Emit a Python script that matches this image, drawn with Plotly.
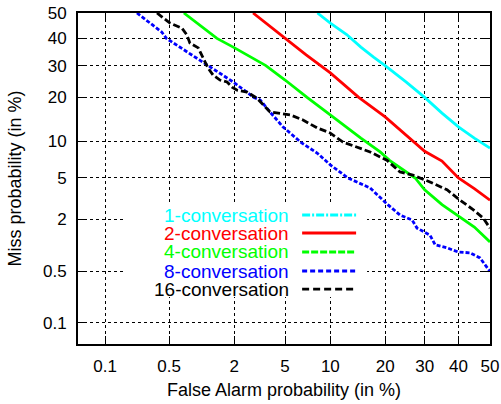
import plotly.graph_objects as go
from statistics import NormalDist

nd = NormalDist()

def probit(vals):
    return [nd.inv_cdf(v / 100.0) for v in vals]

# Tick labels (percent)
tick_pct = [0.1, 0.5, 2, 5, 10, 20, 30, 40, 50]
tick_txt = ["0.1", "0.5", "2", "5", "10", "20", "30", "40", "50"]

series_names = ["1-conversation", "2-conversation", "4-conversation", "8-conversation", "16-conversation"]

# 1-conversation (False alarm %, Miss %)
fa_1 = [8.3, 10, 12.5, 15, 17.5, 20, 25, 30, 35, 40, 45, 50]
miss_1 = [50, 46, 41.5, 36.7, 33, 30, 24.6, 20, 15.9, 12.8, 10.6, 8.9]

# 2-conversation
fa_2 = [2.86, 3.87, 5, 7, 10, 14.6, 20, 26.8, 30, 35, 40, 45, 50]
miss_2 = [50, 44.7, 40, 33.8, 27.5, 20, 15, 10, 8.4, 7.0, 5, 4, 3.1]

# 4-conversation
fa_4 = [0.70, 1.0, 1.42, 2, 3.6, 5, 7.1, 11, 15, 18.9, 21, 27.4, 30, 35, 41.4, 45, 50]
miss_4 = [50, 45.2, 40, 36.5, 30, 25.2, 20, 14.3, 10.6, 8.3, 7.1, 5, 3.9, 2.8, 2.0, 1.64, 1.12]

# 8-conversation
fa_8 = [0.23, 0.32, 0.42, 0.47, 0.75, 1.18, 1.51, 1.96, 2.9, 3.25, 3.87, 4.83, 6.5, 8.3,
        10, 12.7, 16.8, 18.9, 20.6, 23.5, 26.6, 27.9, 31.5, 33, 36.5, 39.9, 43.6, 46.8, 50]
miss_8 = [50, 46, 42.5, 40, 34.9, 30, 27.5, 24.6, 20, 19.3, 16.2, 12.8, 9.8, 8.1,
          6.5, 5, 4.05, 3.3, 2.8, 2.2, 1.95, 1.6, 1.34, 1.04, 0.96, 0.86, 0.84, 0.73, 0.5]

# 16-conversation
fa_16 = [0.376, 0.51, 0.67, 0.75, 0.80, 0.96, 1.0, 1.11, 1.18, 1.31, 1.51, 1.74, 1.92, 2.12,
         2.56, 3.07, 3.42, 3.87, 5.42, 6.67, 8.26, 9.96, 11.9, 14.3, 16.8, 20.4, 23.5, 26.8,
         31.5, 36.5, 40.5, 44.6, 47.8, 50]
miss_16 = [50, 46, 44, 41.3, 38.2, 36.4, 34.9, 30.9, 29.2, 26.8, 25.2, 24.6, 23, 22.1,
           21.5, 19.8, 18, 16.2, 15.5, 14.3, 12.6, 11.6, 9.9, 9.1, 8.3, 7.1, 5.65, 5.3,
           4.6, 3.9, 3.1, 2.5, 2.05, 1.6]

colors = ["#00FFFF", "#FF0000", "#00FF00", "#0000FF", "#000000"]
plot_dash = ["solid", "solid", "solid", "4px,2px", "7px,3px"]
legend_dash = ["8px,2px,2px,2px", "solid", "7px,2px", "5px,3px", "7px,4px"]

FONT = "Liberation Sans, Arial, Helvetica, sans-serif"

fig = go.Figure()
for fa, miss, c, d, name in zip([fa_1, fa_2, fa_4, fa_8, fa_16],
                                [miss_1, miss_2, miss_4, miss_8, miss_16],
                                colors, plot_dash, series_names):
    fig.add_trace(go.Scatter(x=probit(fa), y=probit(miss), mode="lines", name=name,
                             line=dict(color=c, width=2.8, dash=d), showlegend=False))

axis_common = dict(
    tickmode="array", tickvals=probit(tick_pct), ticktext=tick_txt,
    showgrid=True, gridcolor="black", griddash="dot", gridwidth=1,
    showline=True, linecolor="black", linewidth=2, mirror="ticks",
    ticks="inside", ticklen=8, tickwidth=1, tickcolor="black",
    zeroline=False, tickfont=dict(family=FONT, size=17, color="black"),
    ticklabelstandoff=6, automargin=False,
)
fig.update_xaxes(range=[-3.307, 0], **axis_common)
fig.update_yaxes(range=[-3.30, 0], **axis_common)

# legend box (white, hides grid) in data coordinates of the probit axes
shapes = [dict(type="rect", xref="x", yref="y", x0=-2.945, x1=-0.987, y0=-2.832, y1=-1.884,
               fillcolor="white", line=dict(width=0), layer="between")]
annotations = []
row_y = [0.3897, 0.3353, 0.278, 0.2205, 0.166]
for name, c, d, yy in zip(series_names, colors, legend_dash, row_y):
    annotations.append(dict(x=0.517, y=yy, xref="paper", yref="paper", text=name,
                            showarrow=False, xanchor="right", yanchor="middle",
                            font=dict(family=FONT, size=19, color=c)))
    shapes.append(dict(type="line", xref="paper", yref="paper", x0=0.544, x1=0.675,
                       y0=yy, y1=yy, line=dict(color=c, width=2.8, dash=d), layer="above"))

annotations.append(dict(x=0.5, y=-0.139, xref="paper", yref="paper",
                        text="False Alarm probability (in %)", showarrow=False,
                        xanchor="center", yanchor="middle",
                        font=dict(family=FONT, size=18, color="black")))
annotations.append(dict(x=-0.153, y=0.5, xref="paper", yref="paper",
                        text="Miss probability (in %)", showarrow=False, textangle=-90,
                        xanchor="center", yanchor="middle",
                        font=dict(family=FONT, size=18, color="black")))

fig.update_layout(
    width=501, height=404,
    margin=dict(l=78, r=11, t=13, b=60, autoexpand=False),
    paper_bgcolor="white", plot_bgcolor="white",
    shapes=shapes, annotations=annotations,
    showlegend=False,
)

fig.write_html("out.html", config={"displayModeBar": False},
               post_script="document.body.style.margin='0';document.body.style.padding='0';document.body.style.overflow='hidden';")
